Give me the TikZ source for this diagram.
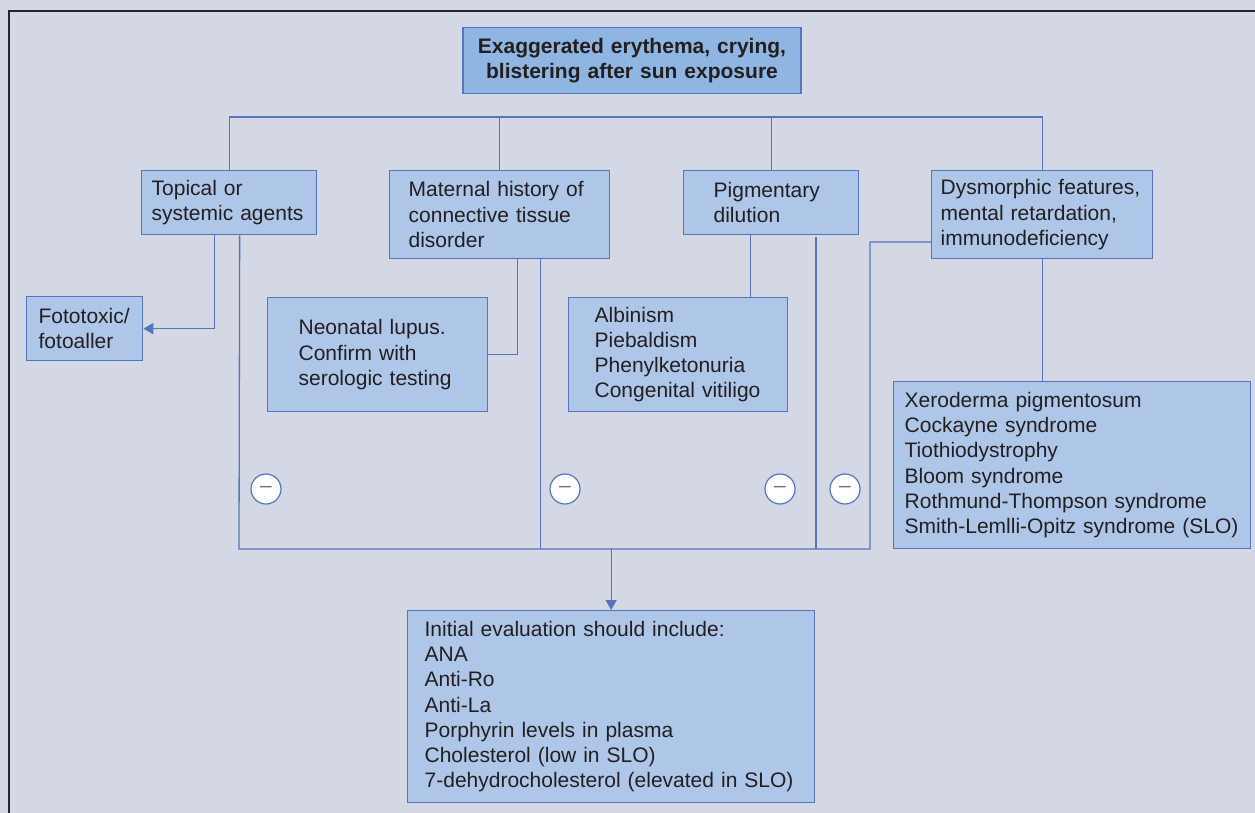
\documentclass[tikz,border=0pt]{standalone}
\usepackage{fontspec}
\setmainfont{Liberation Sans}
\usepackage{xcolor}
\usetikzlibrary{arrows.meta}
\usetikzlibrary{math}
\definecolor{bgcol}{RGB}{212,215,228}
\definecolor{boxfill}{RGB}{174,198,232}
\definecolor{titlefill}{RGB}{143,181,227}
\definecolor{boxline}{RGB}{84,118,190}
\definecolor{txtcol}{RGB}{35,31,32}
\hyphenpenalty=10000
\exhyphenpenalty=10000

\begin{document}
\begin{tikzpicture}[x=1pt,y=-1pt,
  box/.style={draw=boxline, fill=boxfill, line width=1.3pt, align=left,
    anchor=north west, inner ysep=0pt, text=txtcol,
    font=\fontsize{21}{25.2}\selectfont},
  link/.style={draw=boxline, line width=1.3pt},
  arrowlink/.style={link, -{Triangle[length=10pt,width=11pt]}},
  minus/.style={circle, draw=boxline, fill=white, line width=1.2pt,
    minimum size=30pt, inner sep=0pt, text=black!55,
    font=\fontsize{21}{25}\selectfont}]
\tikzmath{
\busY=117;
\lowY=549;
}
\useasboundingbox (0,0) rectangle (1255,813);
\fill[bgcol] (0,0) rectangle (1255,813);
\draw[black!85, line width=1.2pt] (9,813) -- (9,11) -- (1255,11);

%%%%%%%%%%   boxes
\node[box, fill=titlefill, anchor=north, align=center, minimum width=338,
  minimum height=66, text width=320, font=\fontsize{21}{25.2}\selectfont\bfseries]
  (title) at (632,27) {Exaggerated erythema, crying,\\blistering after sun exposure};

\node[box, minimum width=175, minimum height=64, text width=155, inner xsep=10]
  (topical) at (141,170) {Topical or\\systemic agents};
\node[box, minimum width=220, minimum height=88, text width=182, inner xsep=19]
  (maternal) at (389,170) {Maternal history of\\connective tissue\\disorder};
\node[box, minimum width=175, minimum height=64, text width=115, inner xsep=30]
  (pigment) at (683,170) {Pigmentary\\dilution};
\node[box, minimum width=221, minimum height=88, text width=203, inner xsep=9]
  (dysmorph) at (931,170) {Dysmorphic features,\\mental retardation,\\immunodeficiency};

\node[box, minimum width=116, minimum height=64, text width=92, inner xsep=12]
  (fototox) at (26,296) {Fototoxic/\\fotoaller};
\node[box, minimum width=220, minimum height=114, text width=158, inner xsep=31]
  (neonatal) at (267,297) {Neonatal lupus.\\Confirm with\\serologic testing};
\node[box, minimum width=219, minimum height=114, text width=167, inner xsep=26]
  (albinism) at (568,297) {Albinism\\Piebaldism\\Phenylketonuria\\Congenital vitiligo};
\node[box, minimum width=357, minimum height=167, text width=335, inner xsep=11]
  (xeroderma) at (893,381) {Xeroderma pigmentosum\\Cockayne syndrome\\Tiothiodystrophy\\Bloom syndrome\\Rothmund-Thompson syndrome\\Smith-Lemlli-Opitz syndrome (SLO)};
\node[box, minimum width=407, minimum height=192, text width=373, inner xsep=17]
  (initial) at (407,610) {Initial evaluation should include:\\ANA\\Anti-Ro\\Anti-La\\Porphyrin levels in plasma\\Cholesterol (low in SLO)\\7-dehydrocholesterol (elevated in SLO)};

%%%%%%%%%%   top bus
\coordinate (topbus) at (0,\busY);
\draw[link] (topical.north) |- (topbus -| dysmorph.north) -- (dysmorph.north);
\draw[link] (maternal.north) -- (maternal.north |- topbus);
\draw[link] (pigment.north) -- (pigment.north |- topbus);

%%%%%%%%%%   positive findings
\draw[arrowlink] ([xshift=-14.5pt]topical.south) |- (fototox.east);
\draw[link] ([xshift=18pt]maternal.south) |- (neonatal.east);
\draw[link] ([xshift=-20.5pt]pigment.south) -- ([xshift=-20.5pt]pigment.south |- albinism.north);
\draw[link] (dysmorph.south) -- (dysmorph.south |- xeroderma.north);

%%%%%%%%%%   negative findings
\coordinate (lowL) at (239,\lowY);
\coordinate (lowR) at (870,\lowY);
\coordinate (sideR) at (870,242);
\coordinate (pigneg) at (816,237);
\draw[link] ([xshift=10.5pt]topical.south) -- (lowL) -- (lowR) -- (sideR) -- (sideR -| dysmorph.west);
\draw[link] ([xshift=41pt]maternal.south) -- ([xshift=41pt]maternal.south |- lowL);
\draw[link, line width=1.8pt] (pigneg) -- (pigneg |- lowL);
\draw[arrowlink] (lowL -| initial.north) -- (initial.north);

\node[minus] (m1) at (266,489) {--};
\node[minus] (m2) at (565,489) {--};
\node[minus] (m3) at (780,489) {--};
\node[minus] (m4) at (845,489) {--};
\end{tikzpicture}
\end{document}
